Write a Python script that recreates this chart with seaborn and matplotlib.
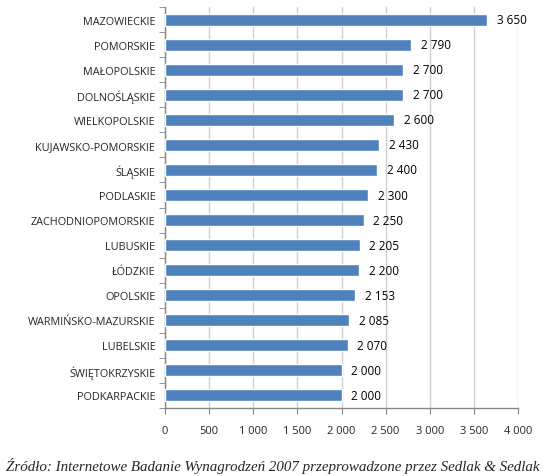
import matplotlib
matplotlib.use("Agg")
import matplotlib.pyplot as plt
import seaborn as sns
import pandas as pd
from matplotlib.ticker import FuncFormatter, FixedLocator, MultipleLocator

regions = ["MAZOWIECKIE", "POMORSKIE", "MAŁOPOLSKIE", "DOLNOŚLĄSKIE", "WIELKOPOLSKIE",
           "KUJAWSKO-POMORSKIE", "ŚLĄSKIE", "PODLASKIE", "ZACHODNIOPOMORSKIE", "LUBUSKIE",
           "ŁÓDZKIE", "OPOLSKIE", "WARMIŃSKO-MAZURSKIE", "LUBELSKIE", "ŚWIĘTOKRZYSKIE",
           "PODKARPACKIE"]
salaries = [3650, 2790, 2700, 2700, 2600, 2430, 2400, 2300, 2250, 2205, 2200, 2153,
            2085, 2070, 2000, 2000]
source = "Źródło: Internetowe Badanie Wynagrodzeń 2007 przeprowadzone przez Sedlak & Sedlak"

df = pd.DataFrame({"region": regions, "salary": salaries})

sns.set_style("white")
plt.rcParams['font.family'] = ['Open Sans', 'DejaVu Sans']

fig = plt.figure(figsize=(5.45, 4.77), dpi=100)
ax = fig.add_axes([0.3028, 0.1426, 0.6477, 0.8404])
ax.set_axisbelow(True)

sns.barplot(data=df, x="salary", y="region", orient="h", color="#4F81BD",
            saturation=1, width=0.48, ax=ax, zorder=3)

def fmt(v):
    s = f"{int(round(v)):,}".replace(",", " ")
    return s

ax.set_xlim(0, 4000)
ax.set_ylim(len(regions) - 0.5, -0.5)
ax.xaxis.set_major_locator(MultipleLocator(500))
ax.xaxis.set_major_formatter(FuncFormatter(lambda v, p: fmt(v)))
ax.xaxis.grid(True, color="#CFCFCF", linewidth=1.0, zorder=0)
ax.yaxis.grid(False)

for c in ax.containers:
    ax.bar_label(c, labels=[fmt(v) for v in c.datavalues], padding=7,
                 fontsize=8.5, color="#000000")

ax.set_xlabel("")
ax.set_ylabel("")
for s in ["top", "right"]:
    ax.spines[s].set_visible(False)
for s in ["left", "bottom"]:
    ax.spines[s].set_color("#868686")
    ax.spines[s].set_linewidth(1.0)

ax.tick_params(axis="x", which="major", length=4, color="#868686", labelsize=8,
               direction="out", pad=8, bottom=True)
ax.tick_params(axis="y", which="major", length=0, labelsize=7.8, pad=7)
ax.yaxis.set_minor_locator(FixedLocator([i - 0.5 for i in range(len(regions) + 1)]))
ax.tick_params(axis="y", which="minor", length=4, color="#868686", direction="out", left=True)

fig.text(0.5, 0.024, source, ha="center", va="center", fontsize=10.8,
         family=["Liberation Serif", "DejaVu Serif"], style="italic")

fig.savefig("out.png", dpi=100)
